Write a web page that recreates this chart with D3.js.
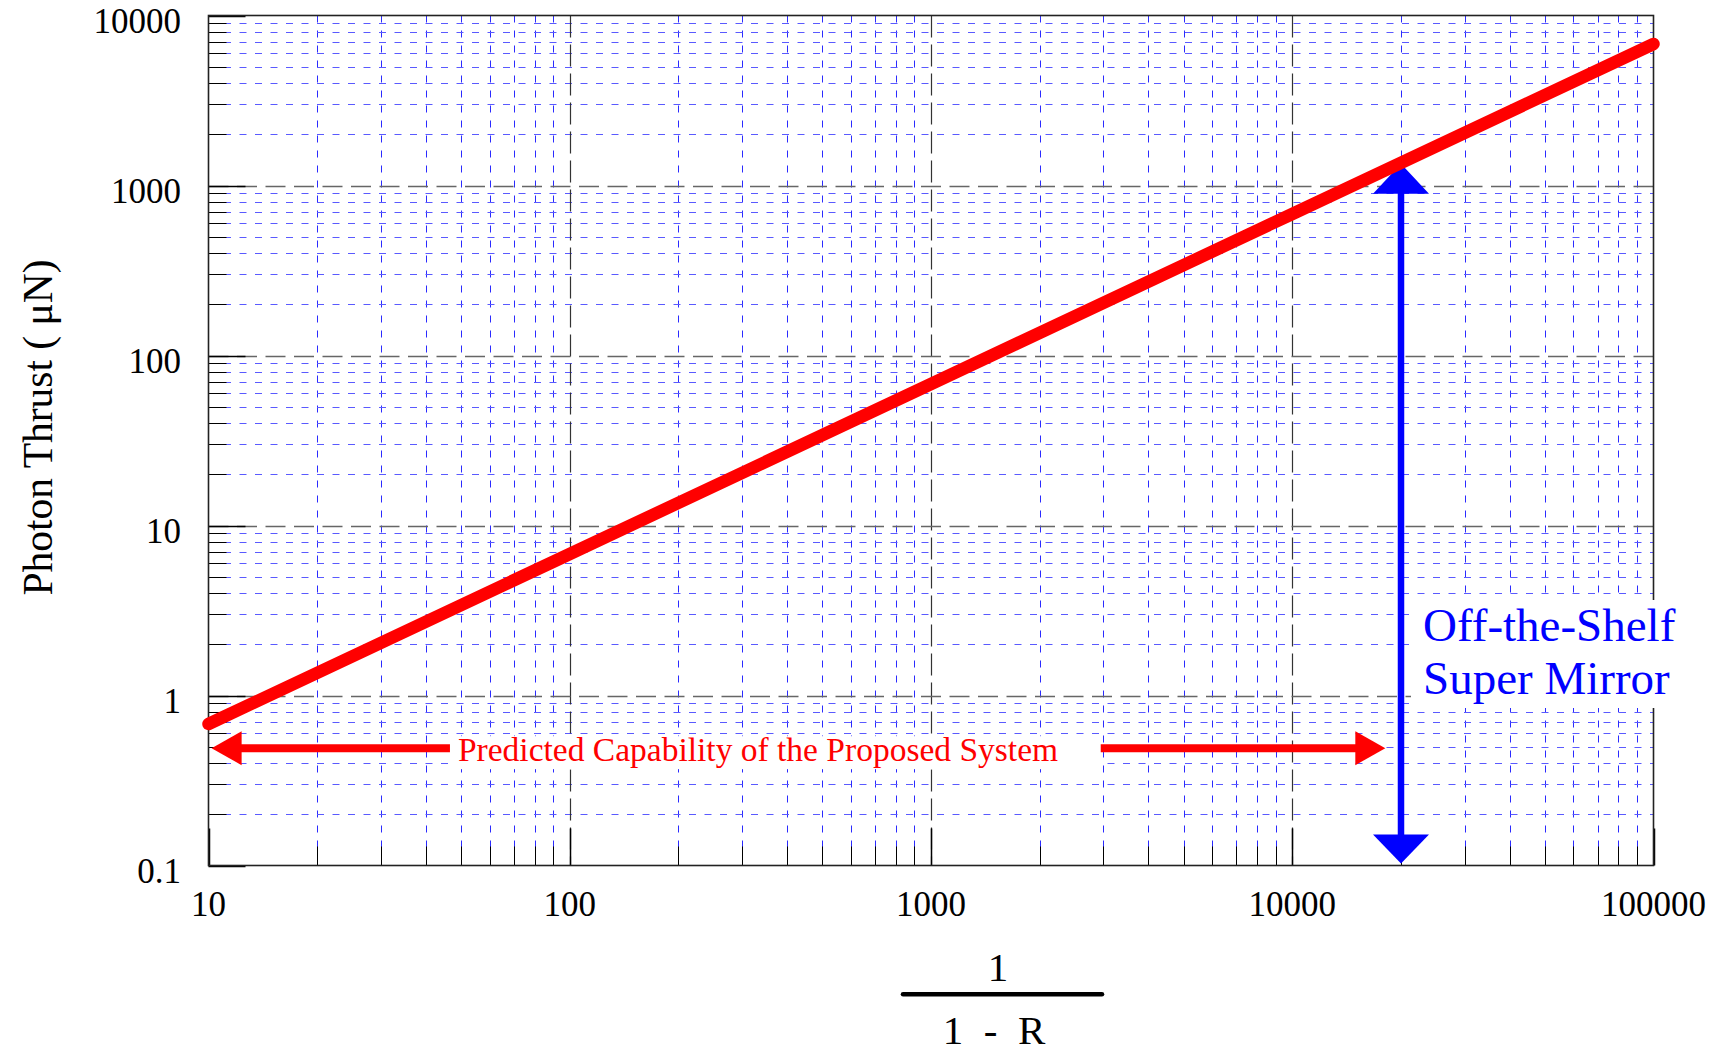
<!DOCTYPE html>
<html><head><meta charset="utf-8">
<script src="https://cdn.jsdelivr.net/npm/d3@7"></script>
<style>body{margin:0;background:#fff}svg{display:block}</style>
</head><body>
<svg id="c" width="1724" height="1056"></svg>
<script>
// ---- data ----
const xTickValues = [10, 100, 1000, 10000, 100000];
const xTickLabels = ["10", "100", "1000", "10000", "100000"];
const yTickValues = [0.1, 1, 10, 100, 1000, 10000];
const yTickLabels = ["0.1", "1", "10", "100", "1000", "10000"];
const thrustX = [10, 100, 1000, 10000, 100000];
const thrustY = [0.68, 6.8, 68, 680, 6800];
const mirrorX = 20000;
const mirrorY = [0.1, 1360];
const predictedX = [10.2, 18100];
const predictedShaftGap = [46.6, 2950];
const predictedY = 0.49;
const predictedLabel = "Predicted Capability of the Proposed System";
const mirrorLabel = ["Off-the-Shelf", "Super Mirror"];
const yTitle = "Photon Thrust ( \u03BCN)";

// ---- layout ----
const svg = d3.select("#c");
const L = 208.5, R = 1653.5, T = 15.5, B = 865.5;
const x = d3.scaleLog().domain([10, 100000]).range([L, R]);
const y = d3.scaleLog().domain([0.1, 10000]).range([B, T]);
const serif = "'Liberation Serif','Times New Roman',Times,serif";

const isMajor = v => Math.abs(Math.log10(v) - Math.round(Math.log10(v))) < 1e-9;
const xMinor = x.ticks().filter(v => !isMajor(v));
const yMinor = y.ticks().filter(v => !isMajor(v));

const g = svg.append("g");
// minor grid
g.selectAll(".vm").data(xMinor).join("line")
  .attr("x1", d => Math.round(x(d)) + 0.5).attr("x2", d => Math.round(x(d)) + 0.5)
  .attr("y1", T).attr("y2", B)
  .attr("stroke", "#2b2bff").attr("stroke-width", 1).attr("stroke-dasharray", "7,8");
g.selectAll(".hm").data(yMinor).join("line")
  .attr("y1", d => Math.round(y(d)) + 0.5).attr("y2", d => Math.round(y(d)) + 0.5)
  .attr("x1", L).attr("x2", R)
  .attr("stroke", "#5a5aff").attr("stroke-width", 1).attr("stroke-dasharray", "7,8.5");
// major grid
g.selectAll(".vM").data(xTickValues.slice(1, -1)).join("line")
  .attr("x1", d => Math.round(x(d)) + 0.5).attr("x2", d => Math.round(x(d)) + 0.5)
  .attr("y1", T).attr("y2", B)
  .attr("stroke", "#333").attr("stroke-width", 1.2).attr("stroke-dasharray", "22,7");
g.selectAll(".hM").data(yTickValues.slice(1, -1)).join("line")
  .attr("y1", d => Math.round(y(d)) + 0.5).attr("y2", d => Math.round(y(d)) + 0.5)
  .attr("x1", L).attr("x2", R)
  .attr("stroke", "#666").attr("stroke-width", 1.5).attr("stroke-dasharray", "20,8.5");
// ticks
g.selectAll(".ty").data(yMinor).join("line")
  .attr("y1", d => Math.round(y(d)) + 0.5).attr("y2", d => Math.round(y(d)) + 0.5)
  .attr("x1", L).attr("x2", L + 18).attr("stroke", "#000").attr("stroke-width", 1);
g.selectAll(".tY").data(yTickValues).join("line")
  .attr("y1", d => Math.round(y(d)) + 0.5).attr("y2", d => Math.round(y(d)) + 0.5)
  .attr("x1", L).attr("x2", L + 37).attr("stroke", "#000").attr("stroke-width", 1.5);
g.selectAll(".tx").data(xMinor).join("line")
  .attr("x1", d => Math.round(x(d)) + 0.5).attr("x2", d => Math.round(x(d)) + 0.5)
  .attr("y1", B).attr("y2", B - 19).attr("stroke", "#000").attr("stroke-width", 1);
g.selectAll(".tX").data(xTickValues).join("line")
  .attr("x1", d => Math.round(x(d)) + 0.5).attr("x2", d => Math.round(x(d)) + 0.5)
  .attr("y1", B).attr("y2", B - 37).attr("stroke", "#000").attr("stroke-width", 1.5);
// frame
svg.append("rect").attr("x", L).attr("y", T).attr("width", R - L).attr("height", B - T)
  .attr("fill", "none").attr("stroke", "#222").attr("stroke-width", 1.6);

// tick labels
svg.selectAll(".yl").data(yTickValues).join("text")
  .attr("x", 181).attr("y", d => y(d) + 17)
  .attr("text-anchor", "end").attr("font-family", serif).attr("font-size", 35)
  .text((d, i) => yTickLabels[i]);
svg.selectAll(".xl").data(xTickValues).join("text")
  .attr("x", d => x(d)).attr("y", B + 50)
  .attr("text-anchor", "middle").attr("font-family", serif).attr("font-size", 35)
  .text((d, i) => xTickLabels[i]);

// axis titles
svg.append("text").attr("transform", "translate(52,427.5) rotate(-90)")
  .attr("text-anchor", "middle").attr("font-family", serif).attr("font-size", 41.5)
  .attr("xml:space", "preserve").style("white-space", "pre")
  .text(yTitle);
svg.append("text").attr("x", 998).attr("y", 981).attr("text-anchor", "middle")
  .attr("font-family", serif).attr("font-size", 41).text("1");
svg.append("line").attr("x1", 903).attr("x2", 1102).attr("y1", 994.3).attr("y2", 994.3)
  .attr("stroke", "#000").attr("stroke-width", 4.5).attr("stroke-linecap", "round");
svg.append("text").attr("x", 994).attr("y", 1044).attr("text-anchor", "middle")
  .attr("font-family", serif).attr("font-size", 41)
  .attr("xml:space", "preserve").style("white-space", "pre").text("1  -  R");

// blue double arrow
const bx = x(mirrorX), by0 = y(mirrorY[0]), by1 = y(mirrorY[1]);
svg.append("line").attr("x1", bx).attr("x2", bx).attr("y1", by1 + 25).attr("y2", by0 - 25)
  .attr("stroke", "#0000ff").attr("stroke-width", 6.5);
svg.append("path").attr("d", `M${bx},${by1 + 1}L${bx - 28},${by1 + 31}L${bx + 28},${by1 + 31}Z`).attr("fill", "#0000ff");
svg.append("path").attr("d", `M${bx},${by0 - 2}L${bx - 28},${by0 - 31}L${bx + 28},${by0 - 31}Z`).attr("fill", "#0000ff");

// red line
const line = d3.line().x(d => x(d[0])).y(d => y(d[1]));
svg.append("path").datum(thrustX.map((v, i) => [v, thrustY[i]]))
  .attr("d", line).attr("fill", "none").attr("stroke", "#ff0000")
  .attr("stroke-width", 12.5).attr("stroke-linecap", "round");

// predicted capability arrow
const py = y(predictedY);
svg.append("rect").attr("x", x(predictedShaftGap[0])).attr("y", py - 12)
  .attr("width", x(predictedShaftGap[1]) - x(predictedShaftGap[0])).attr("height", 33).attr("fill", "#fff");
const lx = x(predictedX[0]), rx = x(predictedX[1]);
svg.append("line").attr("x1", lx + 28).attr("x2", x(predictedShaftGap[0])).attr("y1", py).attr("y2", py)
  .attr("stroke", "#ff0000").attr("stroke-width", 8);
svg.append("line").attr("x1", x(predictedShaftGap[1])).attr("x2", rx - 28).attr("y1", py).attr("y2", py)
  .attr("stroke", "#ff0000").attr("stroke-width", 8);
svg.append("path").attr("d", `M${lx},${py}L${lx + 30},${py - 17}L${lx + 30},${py + 17}Z`).attr("fill", "#ff0000");
svg.append("path").attr("d", `M${rx},${py}L${rx - 30},${py - 17}L${rx - 30},${py + 17}Z`).attr("fill", "#ff0000");
svg.append("text").attr("x", x(predictedShaftGap[0]) + 8).attr("y", 761)
  .attr("font-family", serif).attr("font-size", 33.5).attr("fill", "#ff0000").text(predictedLabel);

// mirror label
svg.append("rect").attr("x", 1411).attr("y", 600).attr("width", 290).attr("height", 108).attr("fill", "#fff");
svg.selectAll(".ml").data(mirrorLabel).join("text")
  .attr("x", 1423).attr("y", (d, i) => 641 + i * 53)
  .attr("font-family", serif).attr("font-size", 47).attr("fill", "#0000ff").text(d => d);
</script>
</body></html>
